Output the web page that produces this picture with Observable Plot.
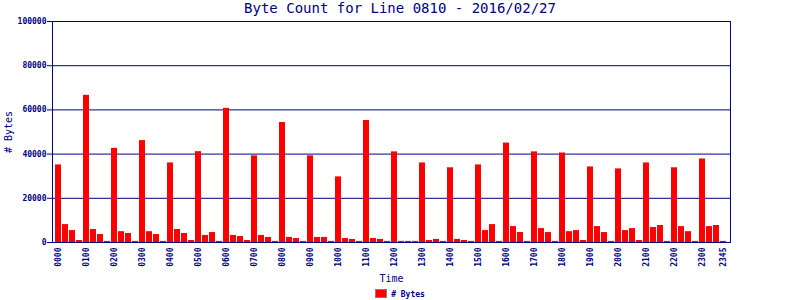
<!DOCTYPE html>
<html>
<head>
<meta charset="utf-8">
<script src="https://cdn.jsdelivr.net/npm/d3@7"></script>
<script src="https://cdn.jsdelivr.net/npm/@observablehq/plot@0.6"></script>
<style>
  body { margin: 0; background: #fff; }
  #wrap { position: relative; width: 800px; height: 300px; overflow: hidden; }
  #title { position: absolute; top: 0px; left: 0; width: 800px; text-align: center;
           font: 14px "DejaVu Sans Mono", monospace; color: #000080; line-height: 16px; }
  #legend { position: absolute; top: 289px; left: 0; width: 800px; text-align: center;
            font: bold 8px "DejaVu Sans Mono", monospace; color: #000080; line-height: 10px; }
  #legend .sw { display: inline-block; width: 10px; height: 7px; background: #ff0000;
                border: 1px solid #808080; vertical-align: -1px; margin-right: 4px; }
</style>
</head>
<body>
<div id="wrap">
  <div id="title"></div>
  <div id="legend"><span class="sw"></span><span id="legtext"></span></div>
</div>
<script>
const title = "Byte Count for Line 0810 - 2016/02/27";
const seriesName = "# Bytes";
const xLabel = "Time";
const yLabel = "# Bytes";

const hours = ["00","01","02","03","04","05","06","07","08","09","10","11",
               "12","13","14","15","16","17","18","19","20","21","22","23"];
const quarters = ["00","15","30","45"];
const times = hours.flatMap(h => quarters.map(q => h + q));

const bytes = [
  35100, 8100, 5400, 900,
  66600, 5900, 3600, 500,
  42600, 4900, 4100, 500,
  46100, 4900, 3600, 500,
  36000, 5900, 4100, 900,
  41100, 3200, 4500, 500,
  60700, 3200, 2700, 900,
  39200, 3200, 2300, 500,
  54300, 2300, 1800, 500,
  39200, 2300, 2300, 500,
  29700, 1800, 1400, 500,
  55200, 1800, 1400, 500,
  41000, 500, 500, 500,
  36000, 900, 1400, 500,
  33800, 1400, 900, 500,
  35100, 5400, 8100, 500,
  45000, 7200, 4500, 500,
  41000, 6300, 4500, 500,
  40500, 4900, 5400, 900,
  34200, 7200, 4500, 500,
  33300, 5400, 6300, 900,
  36000, 6800, 7700, 500,
  33800, 7200, 4900, 500,
  37800, 7200, 7700, 500
];

const xTicks = times.filter(t => t.endsWith("00")).concat(["2345"]);
const yTicks = [0, 20000, 40000, 60000, 80000, 100000];

const data = times.map((t, i) => ({time: t, value: bytes[i]}));

document.getElementById("title").textContent = title;
document.getElementById("legtext").textContent = seriesName;

const navy = "#000080";

const chart = Plot.plot({
  width: 800,
  height: 300,
  marginLeft: 52,
  marginRight: 70,
  marginTop: 21,
  marginBottom: 58,
  style: {fontFamily: "'DejaVu Sans Mono', monospace", background: "transparent"},
  x: {type: "band", domain: times, paddingInner: 0.14, paddingOuter: 0.4},
  y: {domain: [0, 100000]},
  marks: [
    Plot.ruleY(yTicks, {stroke: navy, strokeWidth: 1}),
    Plot.barY(data, {x: "time", y: "value", fill: "#ff0000"}),
    Plot.frame({stroke: navy, strokeWidth: 1}),
    Plot.axisY({
      ticks: yTicks, tickSize: 5, tickPadding: 1, stroke: navy, fill: navy,
      fontSize: 8, fontWeight: "bold", label: null, tickFormat: d => String(d)
    }),
    Plot.axisX({
      ticks: xTicks, tickSize: 0, tickPadding: 5, tickRotate: -90, fill: navy,
      fontSize: 8, fontWeight: "bold", label: null
    }),
    Plot.text([yLabel], {
      frameAnchor: "left", dx: -44, rotate: -90, fill: navy, fontSize: 10,
      textAnchor: "middle", lineAnchor: "middle", text: d => d
    }),
    Plot.text([xLabel], {
      frameAnchor: "bottom", dy: 36, fill: navy, fontSize: 10,
      textAnchor: "middle", lineAnchor: "middle", text: d => d
    })
  ]
});
document.getElementById("wrap").prepend(chart);
chart.style.position = "absolute";
chart.style.left = "0";
chart.style.top = "0";
</script>
</body>
</html>
